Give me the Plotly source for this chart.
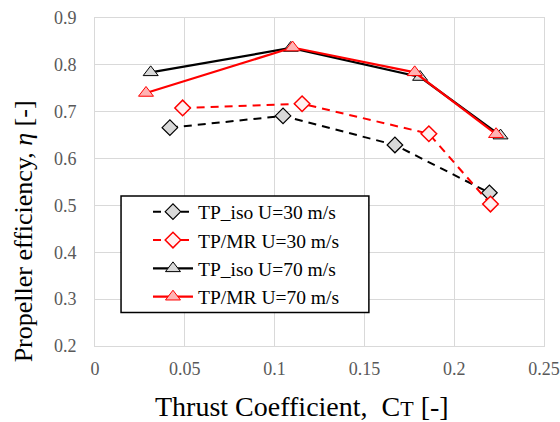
import plotly.graph_objects as go

# Data
ct_iso30 = [0.0417, 0.1047, 0.167, 0.2196]
eta_iso30 = [0.666, 0.691, 0.629, 0.527]

ct_mr30 = [0.0488, 0.1153, 0.1859, 0.2202]
eta_mr30 = [0.708, 0.717, 0.653, 0.503]

ct_iso70 = [0.031, 0.109, 0.181, 0.2258]
eta_iso70 = [0.784, 0.836, 0.774, 0.649]

ct_mr70 = [0.0284, 0.110, 0.178, 0.2233]
eta_mr70 = [0.740, 0.837, 0.784, 0.652]

names = ["TP_iso U=30 m/s", "TP/MR U=30 m/s", "TP_iso U=70 m/s", "TP/MR U=70 m/s"]

FONT = "Liberation Serif"

fig = go.Figure()
fig.add_trace(go.Scatter(
    x=ct_iso30, y=eta_iso30, name=names[0], mode="lines+markers",
    line=dict(color="black", width=2, dash="8px,6px"),
    marker=dict(symbol="diamond", size=12, color="#d9d9d9", line=dict(color="black", width=1.2)),
))
fig.add_trace(go.Scatter(
    x=ct_mr30, y=eta_mr30, name=names[1], mode="lines+markers",
    line=dict(color="#ff0000", width=2, dash="8px,6px"),
    marker=dict(symbol="diamond", size=12, color="#fff0f0", line=dict(color="#ff0000", width=1.5)),
))
fig.add_trace(go.Scatter(
    x=ct_iso70, y=eta_iso70, name=names[2], mode="lines+markers",
    line=dict(color="black", width=2.2),
    marker=dict(symbol="triangle-up", size=13, color="#d9d9d9", line=dict(color="black", width=1)),
))
fig.add_trace(go.Scatter(
    x=ct_mr70, y=eta_mr70, name=names[3], mode="lines+markers",
    line=dict(color="#ff0000", width=2.2),
    marker=dict(symbol="triangle-up", size=13, color="#ffb3b3", line=dict(color="#ff0000", width=1)),
))

axis_common = dict(
    showgrid=True, gridcolor="#d9d9d9", gridwidth=1,
    showline=True, linecolor="#d9d9d9", linewidth=1, mirror=True,
    zeroline=False, ticks="", automargin=False,
    tickfont=dict(family=FONT, size=18, color="#595959"),
)

fig.update_xaxes(range=[0, 0.25], dtick=0.05, ticklabelstandoff=6, **axis_common)
fig.update_yaxes(range=[0.2, 0.9], dtick=0.1, ticklabelstandoff=14, **axis_common)

# Legend frame
fig.add_shape(type="rect", xref="paper", yref="paper",
              x0=0.058, x1=0.610, y0=0.102, y1=0.457,
              fillcolor="white", line=dict(color="black", width=1.5), layer="above")

fig.add_annotation(
    text="Thrust Coefficient,  C<span style='font-size:22px'>T</span> [-]",
    xref="paper", yref="paper", x=0.46, y=-0.183, xanchor="center", yanchor="middle",
    showarrow=False, font=dict(family=FONT, size=28, color="black"),
)
fig.add_annotation(
    text="Propeller efficiency, <i>η</i> [-]",
    xref="paper", yref="paper", x=-0.16, y=0.35, xanchor="center", yanchor="middle",
    textangle=-90, showarrow=False, font=dict(family=FONT, size=26, color="black"),
)

fig.update_layout(
    width=560, height=422,
    margin=dict(l=95, r=16, t=18, b=76),
    paper_bgcolor="white", plot_bgcolor="white",
    font=dict(family=FONT, color="black"),
    showlegend=True,
    legend=dict(
        x=0.118, y=0.468, xanchor="left", yanchor="top",
        bgcolor="rgba(0,0,0,0)", borderwidth=0,
        font=dict(family=FONT, size=19.5, color="black"),
        itemwidth=40, tracegroupgap=0,
    ),
)

fig.write_html("out.html")
